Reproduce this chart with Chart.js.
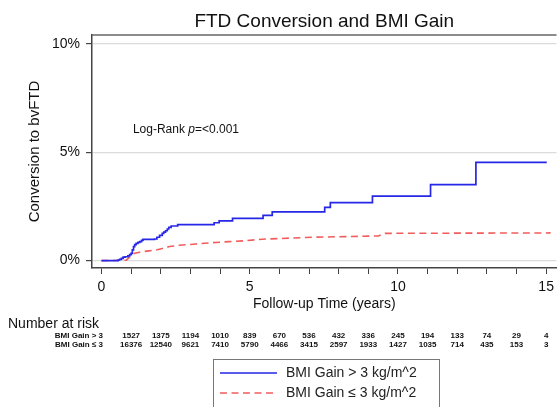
<!DOCTYPE html>
<html>
<head>
<meta charset="utf-8">
<script src="https://cdn.jsdelivr.net/npm/chart.js@4/dist/chart.umd.min.js"></script>
<style>
  body { margin: 0; background: #fff; }
  canvas { display: block; }
</style>
</head>
<body>
<canvas id="kmChart" width="559" height="407"></canvas>
<script>
// Kaplan-Meier style cumulative conversion (%)
const gainHigh = [
    [0, 0], [0.56, 0.03], [0.61, 0.06], [0.67, 0.1], [0.73, 0.16], [0.8, 0.18], [0.89, 0.22],
    [0.95, 0.28], [1.0, 0.34], [1.04, 0.5], [1.08, 0.65], [1.12, 0.74], [1.17, 0.8], [1.23, 0.84],
    [1.29, 0.88], [1.35, 0.94], [1.4, 0.98], [1.79, 1.0], [1.87, 1.08], [1.96, 1.17], [2.05, 1.26],
    [2.1, 1.32], [2.16, 1.38], [2.22, 1.46], [2.27, 1.54], [2.35, 1.6], [2.57, 1.66], [3.8, 1.75],
    [3.97, 1.84], [4.42, 1.95], [5.45, 2.09], [5.76, 2.25], [7.53, 2.46], [7.72, 2.68], [9.14, 2.98],
    [11.1, 3.51], [12.63, 4.54], [15.02, 4.54]
];
const gainLow = [
    [0, 0], [0.84, 0.02], [0.95, 0.16], [1.05, 0.28], [1.12, 0.34], [1.25, 0.38], [1.4, 0.42],
    [1.6, 0.45], [1.85, 0.49], [2.05, 0.56], [2.29, 0.65], [2.63, 0.71], [3.19, 0.77], [3.75, 0.83],
    [4.3, 0.88], [4.87, 0.92], [5.42, 0.99], [5.98, 1.02], [7.1, 1.08], [8.22, 1.11], [9.34, 1.14],
    [9.56, 1.26], [15.15, 1.28]
];

const yTicks = [0, 5, 10];
const xTicks = [0, 1, 2, 3, 4, 5, 6, 7, 8, 9, 10, 11, 12, 13, 14, 15];
const xLabelled = [0, 5, 10, 15];

// number at risk table
const riskYears = [1, 2, 3, 4, 5, 6, 7, 8, 9, 10, 11, 12, 13, 14, 15];
const riskHigh = [1527, 1375, 1194, 1010, 839, 670, 536, 432, 336, 245, 194, 133, 74, 29, 4];
const riskLow = [16376, 12540, 9621, 7410, 5790, 4466, 3415, 2597, 1933, 1427, 1035, 714, 435, 153, 3];
const riskRows = ['BMI Gain > 3', 'BMI Gain \u2264 3'];

const seriesNames = ['BMI Gain > 3 kg/m^2', 'BMI Gain \u2264 3 kg/m^2'];
const blue = '#2626e6';
const red = '#f25c5c';
const FONT = 'Arial, "Liberation Sans", sans-serif';

const toPoints = arr => arr.map(p => ({ x: p[0], y: p[1] }));

const extras = {
    id: 'extras',
    afterDatasetsDraw(chart) {
        const { ctx, chartArea: a } = chart;
        // top frame line (right side runs off the picture)
        ctx.save();
        ctx.strokeStyle = '#666';
        ctx.lineWidth = 1.5;
        ctx.beginPath();
        ctx.moveTo(a.left, a.top);
        ctx.lineTo(a.right, a.top);
        ctx.stroke();
        ctx.restore();
    },
    afterDraw(chart) {
        const { ctx, scales: { x, y } } = chart;
        ctx.save();
        ctx.fillStyle = '#111';
        ctx.textBaseline = 'middle';

        // log-rank note
        let tx = x.getPixelForValue(1.06);
        const ty = y.getPixelForValue(6.03);
        ctx.font = '12px ' + FONT;
        ctx.fillText('Log-Rank ', tx, ty);
        tx += ctx.measureText('Log-Rank ').width;
        ctx.font = 'italic 12px ' + FONT;
        ctx.fillText('p', tx, ty);
        tx += ctx.measureText('p').width;
        ctx.font = '12px ' + FONT;
        ctx.fillText('=<0.001', tx, ty);

        // number at risk
        ctx.font = '14px ' + FONT;
        ctx.fillText('Number at risk', 8, 324);
        ctx.font = 'bold 8px ' + FONT;
        ctx.textAlign = 'right';
        ctx.fillText(riskRows[0], 103, 336);
        ctx.fillText(riskRows[1], 103, 345);
        ctx.textAlign = 'center';
        riskYears.forEach((yr, i) => {
            const px = x.getPixelForValue(yr);
            ctx.fillText(String(riskHigh[i]), px, 336);
            ctx.fillText(String(riskLow[i]), px, 345);
        });

        // legend
        ctx.strokeStyle = '#777';
        ctx.lineWidth = 1;
        ctx.strokeRect(213.5, 359.5, 226, 60);
        ctx.lineWidth = 1.6;
        ctx.strokeStyle = blue;
        ctx.beginPath();
        ctx.moveTo(220, 373);
        ctx.lineTo(277, 373);
        ctx.stroke();
        ctx.strokeStyle = red;
        ctx.setLineDash([7, 4.5]);
        ctx.beginPath();
        ctx.moveTo(220, 393);
        ctx.lineTo(277, 393);
        ctx.stroke();
        ctx.setLineDash([]);
        ctx.font = '14px ' + FONT;
        ctx.textAlign = 'left';
        ctx.fillStyle = '#222';
        ctx.fillText(seriesNames[0], 286, 373);
        ctx.fillText(seriesNames[1], 286, 393);
        ctx.restore();
    }
};

new Chart(document.getElementById('kmChart'), {
    type: 'line',
    data: {
        datasets: [
            {
                label: seriesNames[0],
                data: toPoints(gainHigh),
                borderColor: blue,
                borderWidth: 1.7,
                stepped: true,
                pointRadius: 0,
                fill: false
            },
            {
                label: seriesNames[1],
                data: toPoints(gainLow),
                borderColor: red,
                borderWidth: 1.6,
                borderDash: [7, 4.5],
                pointRadius: 0,
                tension: 0,
                fill: false
            }
        ]
    },
    options: {
        responsive: false,
        animation: false,
        layout: { padding: { left: 0, top: 0, right: 0, bottom: 94 } },
        plugins: {
            legend: { display: false },
            tooltip: { enabled: false },
            title: {
                display: true,
                text: 'FTD Conversion and BMI Gain',
                fullSize: false,
                color: '#111',
                font: { family: FONT, size: 19, weight: 'normal' },
                padding: { top: 10, bottom: 2.2 }
            }
        },
        scales: {
            x: {
                type: 'linear',
                min: -0.32,
                max: 15.35,
                afterBuildTicks: s => { s.ticks = xTicks.map(v => ({ value: v })); },
                afterFit: s => { s.height = 45; },
                ticks: {
                    autoSkip: false,
                    maxRotation: 0,
                    padding: 5,
                    color: '#111',
                    font: { family: FONT, size: 14 },
                    callback: v => xLabelled.includes(v) ? String(v) : ''
                },
                grid: { drawOnChartArea: false, tickLength: 6, tickColor: '#444', tickWidth: 1 },
                border: { color: '#444', width: 1.5 },
                title: {
                    display: true,
                    text: 'Follow-up Time (years)',
                    color: '#111',
                    font: { family: FONT, size: 14 },
                    padding: { top: 0, bottom: 0 }
                }
            },
            y: {
                min: -0.34,
                max: 10.42,
                afterBuildTicks: s => { s.ticks = yTicks.map(v => ({ value: v })); },
                afterFit: s => { s.width = 92; },
                ticks: {
                    padding: 6,
                    color: '#111',
                    font: { family: FONT, size: 14 },
                    callback: v => v + '%'
                },
                grid: { color: '#dcdcdc', lineWidth: 1.2, tickLength: 6, tickColor: '#444' },
                border: { color: '#444', width: 1.5 },
                title: {
                    display: true,
                    text: 'Conversion to bvFTD',
                    color: '#111',
                    font: { family: FONT, size: 15 },
                    padding: { top: 26, bottom: 0 }
                }
            }
        }
    },
    plugins: [extras]
});
</script>
</body>
</html>
